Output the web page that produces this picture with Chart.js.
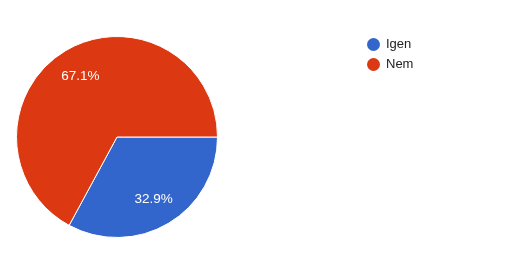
<!DOCTYPE html>
<html>
<head>
<meta charset="utf-8">
<script src="https://cdn.jsdelivr.net/npm/chart.js@4/dist/chart.umd.min.js"></script>
<style>
  html, body { margin: 0; padding: 0; background: #fff; }
  #wrap { position: relative; width: 510px; height: 271px; }
  #chart { position: absolute; left: 0; top: 0; }
  #legend { position: absolute; left: 367px; top: 34px; font-family: Arial, "Liberation Sans", sans-serif; font-size: 13px; color: #222; }
  .item { height: 20px; line-height: 18px; display: flex; align-items: center; }
  .dot { width: 13px; height: 13px; border-radius: 50%; margin-right: 6px; }
</style>
</head>
<body>
<div id="wrap">
  <canvas id="chart" width="510" height="271"></canvas>
  <div id="legend"></div>
</div>
<script>
// Pie data
const labels = ['Igen', 'Nem'];
const values = [32.9, 67.1];
const colors = ['#3366cc', '#dc3912'];

// Percent labels inside slices
const sliceLabels = {
  id: 'sliceLabels',
  afterDatasetsDraw(chart) {
    const ctx = chart.ctx;
    const meta = chart.getDatasetMeta(0);
    const total = values.reduce((s, v) => s + v, 0);
    ctx.save();
    ctx.font = '13.5px Arial, "Liberation Sans", sans-serif';
    ctx.fillStyle = '#ffffff';
    ctx.textAlign = 'center';
    ctx.textBaseline = 'middle';
    meta.data.forEach((arc, i) => {
      const mid = (arc.startAngle + arc.endAngle) / 2;
      const r = arc.outerRadius * 0.71;
      const x = arc.x + Math.cos(mid) * r;
      const y = arc.y + Math.sin(mid) * r;
      ctx.fillText((values[i] / total * 100).toFixed(1) + '%', x, y + 1);
    });
    ctx.restore();
  }
};

new Chart(document.getElementById('chart'), {
  type: 'pie',
  data: {
    labels: labels,
    datasets: [{
      data: values,
      backgroundColor: colors,
      borderColor: '#ffffff',
      borderWidth: 1
    }]
  },
  options: {
    responsive: false,
    animation: false,
    rotation: 90,
    layout: { padding: { left: 16, top: 36, right: 292, bottom: 33 } },
    plugins: {
      legend: { display: false },
      tooltip: { enabled: false }
    }
  },
  plugins: [sliceLabels]
});

// HTML legend
const legend = document.getElementById('legend');
labels.forEach((name, i) => {
  const row = document.createElement('div');
  row.className = 'item';
  row.innerHTML = `<span class="dot" style="background:${colors[i]}"></span>${name}`;
  legend.appendChild(row);
});
</script>
</body>
</html>
